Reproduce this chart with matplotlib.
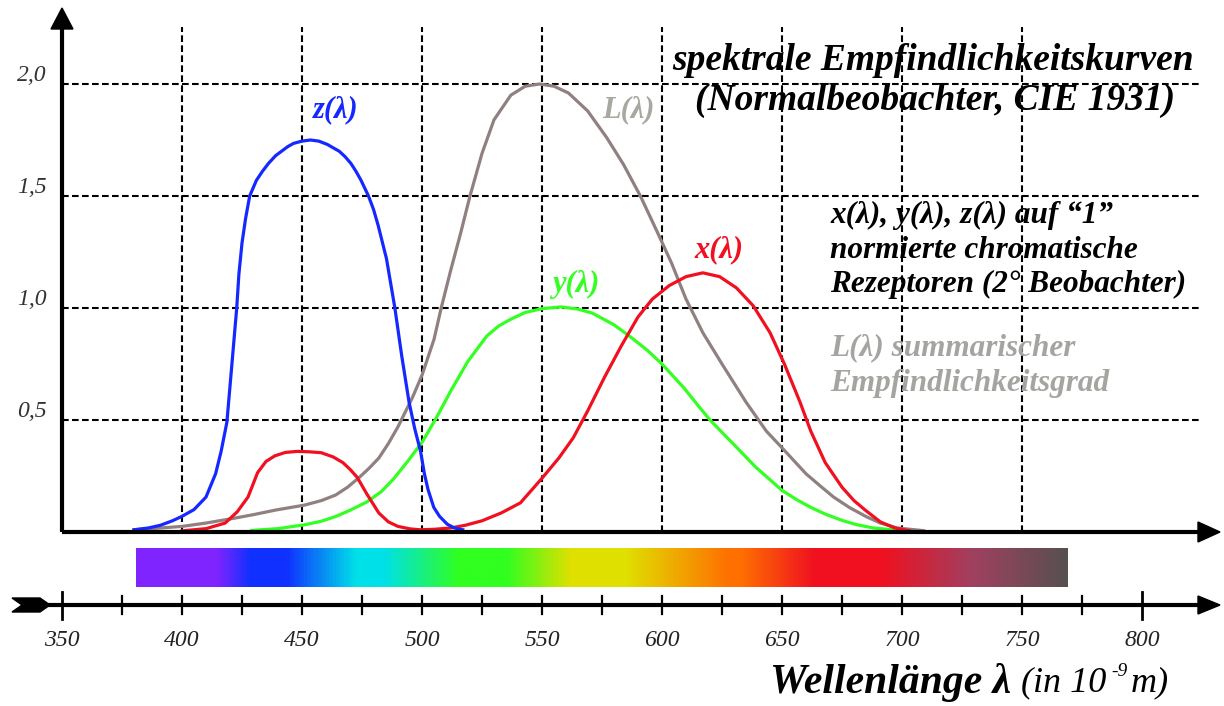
import numpy as np
import matplotlib
matplotlib.use("Agg")
import matplotlib.pyplot as plt
from matplotlib.colors import LinearSegmentedColormap

# ---------------- data ----------------
z_wavelength = [380, 386, 391, 396, 400, 405, 410, 414, 416.3, 418.7, 420.8, 422.8, 423.7, 425,
                426.5, 428.2, 431, 433.5, 436, 439, 441.5, 444, 446.5, 450, 453.5, 457, 460.6,
                463, 465.5, 468, 470.4, 472.5, 474.6, 477.7, 479.8, 481.7, 485.2, 488.7,
                491.5, 494.6, 497, 499.4, 501, 502.5, 504.9, 507.3, 510.5, 513.5, 517]
z_values = [0.01, 0.018, 0.03, 0.05, 0.07, 0.10, 0.156, 0.26, 0.36, 0.49, 0.75, 1.0, 1.15, 1.29,
            1.40, 1.5, 1.57, 1.61, 1.645, 1.68, 1.70, 1.72, 1.735, 1.745, 1.75, 1.745, 1.73,
            1.715, 1.70, 1.675, 1.645, 1.61, 1.57, 1.5, 1.44, 1.37, 1.22, 1.0,
            0.79, 0.58, 0.46, 0.36, 0.26, 0.19, 0.11, 0.07, 0.035, 0.018, 0.01]

x_wavelength = [400, 410, 418, 423, 427.5, 431.5, 435, 438.7, 443, 448, 453, 458, 463, 467, 470,
                473, 477, 482, 486, 490, 495, 499, 505, 512, 518, 525, 533, 541, 550, 557, 563,
                569, 576, 583, 590, 596, 603, 610, 617, 624, 631, 638, 645, 651, 657.5, 662,
                668, 675, 680, 685, 691, 697, 703]
x_values = [0.005, 0.015, 0.04, 0.09, 0.156, 0.265, 0.315, 0.34, 0.355, 0.36, 0.358, 0.354,
            0.335, 0.31, 0.28, 0.244, 0.17, 0.085, 0.045, 0.025, 0.014, 0.01, 0.012, 0.018,
            0.03, 0.05, 0.085, 0.13, 0.24, 0.33, 0.42, 0.54, 0.69, 0.83, 0.96, 1.04, 1.10,
            1.14, 1.157, 1.14, 1.09, 1.01, 0.89, 0.75, 0.58, 0.45, 0.31, 0.20, 0.14, 0.095,
            0.045, 0.018, 0.006]

y_wavelength = [429, 440, 451, 458, 464, 470, 477, 483, 488, 494, 500, 506, 512, 519, 527, 532,
                537, 543, 550, 558, 565, 571, 580, 587, 594, 600, 609, 615, 620, 630, 639,
                650, 656, 662, 668, 675, 681, 688, 700]
y_values = [0.007, 0.015, 0.032, 0.048, 0.069, 0.097, 0.134, 0.18, 0.235, 0.315, 0.40, 0.51,
            0.63, 0.76, 0.875, 0.92, 0.95, 0.98, 0.997, 1.005, 0.995, 0.977, 0.925, 0.87, 0.81,
            0.75, 0.645, 0.565, 0.50, 0.39, 0.29, 0.186, 0.145, 0.11, 0.08, 0.052, 0.033,
            0.018, 0.006]

L_wavelength = [380, 390, 400, 410, 421, 430, 439, 451, 458, 464, 469, 474, 478, 482, 486, 490,
                496, 500, 505, 508, 512, 516, 520, 525, 530, 537, 543, 549, 555, 561, 569, 577,
                584, 591, 598, 604, 610, 617, 625, 635, 643.5, 650, 660, 666, 671.5, 678,
                685, 691, 698, 709]
L_values = [0.01, 0.017, 0.025, 0.04, 0.06, 0.078, 0.098, 0.12, 0.14, 0.165, 0.2, 0.245, 0.285,
            0.33, 0.395, 0.47, 0.60, 0.70, 0.86, 1.0, 1.17, 1.33, 1.5, 1.69, 1.84, 1.95, 1.99,
            2.0, 1.99, 1.96, 1.88, 1.76, 1.64, 1.5, 1.34, 1.2, 1.04, 0.89, 0.75, 0.58, 0.45,
            0.376, 0.26, 0.205, 0.156, 0.11, 0.069, 0.04, 0.018, 0.006]

y_ticks = [0.5, 1.0, 1.5, 2.0]
y_tick_labels = ["0,5", "1,0", "1,5", "2,0"]
x_grid = [400, 450, 500, 550, 600, 650, 700, 750]
x_ticks = list(range(350, 801, 25))
x_tick_labels = [350, 400, 450, 500, 550, 600, 650, 700, 750, 800]

spectrum_nm = [381, 414, 428, 443, 472, 484, 515, 535, 562, 585, 628, 633, 664, 692, 730, 769]
spectrum_colors = ["#8024ff", "#8024ff", "#1030ff", "#1030ff", "#00e0e8", "#00e0e8",
                   "#30ff20", "#30ff20", "#e0e000", "#e0e000", "#ff7000", "#ff7000",
                   "#f01020", "#f01020", "#a04060", "#585050"]

# ---------------- layout helpers (pixel -> data) ----------------
W, H = 1224, 706
def lam(px):
    return 350 + (px - 62) / 2.4
def val(py):
    return (532 - py) / 224.0

fig = plt.figure(figsize=(W / 100, H / 100), dpi=100)
ax = fig.add_axes([0, 0, 1, 1])
ax.set_xlim(lam(0), lam(W))
ax.set_ylim(val(H), val(0))
ax.axis("off")

SERIF = "Liberation Serif"
dash = (0, (3.2, 1.6))

# grid
for g in x_grid:
    ax.plot([g, g], [0, val(27)], color="black", lw=1.5, ls=dash, zorder=1)
for t in y_ticks:
    ax.plot([350, lam(1199)], [t, t], color="black", lw=1.5, ls=dash, zorder=1)

# axes with arrows
ax.plot([350, 350], [0, val(24)], color="black", lw=3.0, solid_capstyle="butt", zorder=5)
ax.fill([350, lam(51), lam(73)], [val(8), val(29), val(29)], color="black", zorder=5)
ax.plot([350, lam(1200)], [0, 0], color="black", lw=3.0, solid_capstyle="butt", zorder=5)
ax.fill([lam(1220), lam(1198), lam(1198)], [0, val(522), val(542)], color="black", zorder=5)

# y tick labels
for t, lab in zip(y_ticks, y_tick_labels):
    ax.text(lam(32), t + 0.04, lab, family=SERIF, style="italic",
            fontsize=17, color="#333333", ha="center", va="center")

# curves
lw = 2.3
ax.plot(L_wavelength, L_values, color="#918080", lw=lw, zorder=3, solid_joinstyle="round")
ax.plot(y_wavelength, y_values, color="#33ff22", lw=lw, zorder=3, solid_joinstyle="round")
ax.plot(x_wavelength, x_values, color="#f01020", lw=lw, zorder=4, solid_joinstyle="round")
ax.plot(z_wavelength, z_values, color="#1428ff", lw=lw, zorder=4, solid_joinstyle="round")

# curve labels
lab_kw = dict(family=SERIF, weight="bold", style="italic", fontsize=22, ha="center", va="center")
ax.text(lam(336), val(110), "z(λ)", color="#1428ff", **lab_kw)
ax.text(lam(628), val(110), "L(λ)", color="#a8a8a0", **lab_kw)
ax.text(lam(719), val(250), "x(λ)", color="#f01020", **lab_kw)
ax.text(lam(576), val(284), "y(λ)", color="#33ff22", **lab_kw)

# title block
t_kw = dict(family=SERIF, weight="bold", style="italic", fontsize=27, ha="center",
            va="center", color="black")
ax.text(lam(933), val(60), "spektrale Empfindlichkeitskurven", **t_kw)
ax.text(lam(935), val(100), "(Normalbeobachter, CIE 1931)", **t_kw)

b_kw = dict(family=SERIF, weight="bold", style="italic", fontsize=22.5, ha="left", va="center")
ax.text(lam(830), val(215), "x(λ), y(λ), z(λ) auf “1”", color="black", **b_kw)
ax.text(lam(830), val(250), "normierte chromatische", color="black", **b_kw)
ax.text(lam(830), val(284), "Rezeptoren (2° Beobachter)", color="black", **b_kw)
ax.text(lam(830), val(348), "L(λ) summarischer", color="#a4a4a0", **b_kw)
ax.text(lam(830), val(383), "Empfindlichkeitsgrad", color="#a4a4a0", **b_kw)

# spectrum bar
pos = [(n - spectrum_nm[0]) / (spectrum_nm[-1] - spectrum_nm[0]) for n in spectrum_nm]
cmap = LinearSegmentedColormap.from_list("spec", list(zip(pos, spectrum_colors)))
grad = np.linspace(0, 1, 800)[None, :]
ax.imshow(grad, cmap=cmap, aspect="auto", interpolation="bilinear",
          extent=[spectrum_nm[0], spectrum_nm[-1], val(587), val(548)], zorder=2)

# bottom wavelength axis
yb = val(605)
ax.plot([lam(48), lam(1202)], [yb, yb], color="black", lw=3.0, solid_capstyle="butt", zorder=5)
ax.fill([lam(1220), lam(1198), lam(1198)], [yb, val(596), val(614)], color="black", zorder=5)
ax.fill([lam(12), lam(40), lam(50), lam(40), lam(12), lam(22)],
        [val(598), val(598), yb, val(612), val(612), yb], color="black", zorder=5)
for t in x_ticks:
    big = t in (350, 800)
    ax.plot([t, t], [val(592 if big else 596), val(619 if big else 614)], color="black",
            lw=2.0 if big else 1.6, zorder=5)
for t in x_tick_labels:
    ax.text(t, val(640), str(t), family=SERIF, style="italic", fontsize=17,
            color="#222222", ha="center", va="center")

# axis title with mixed styles
fig.canvas.draw()
r = fig.canvas.get_renderer()
t1 = ax.text(lam(770), val(683), "Wellenlänge λ ", family=SERIF, weight="bold",
             style="italic", fontsize=30, ha="left", va="center", color="black")
bb = t1.get_window_extent(r)
t2 = fig.text(bb.x1 / W, 1 - 683 / H, "(in 10", family=SERIF, style="italic",
              fontsize=26, ha="left", va="center", color="black")
bb2 = t2.get_window_extent(r)
t3 = fig.text((bb2.x1 + 4) / W, 1 - 672 / H, "-9", family=SERIF, style="italic",
              fontsize=14, ha="left", va="center", color="black")
bb3 = t3.get_window_extent(r)
fig.text((bb3.x1 + 4) / W, 1 - 683 / H, "m)", family=SERIF, style="italic",
         fontsize=26, ha="left", va="center", color="black")

fig.savefig("out.png", dpi=100)
